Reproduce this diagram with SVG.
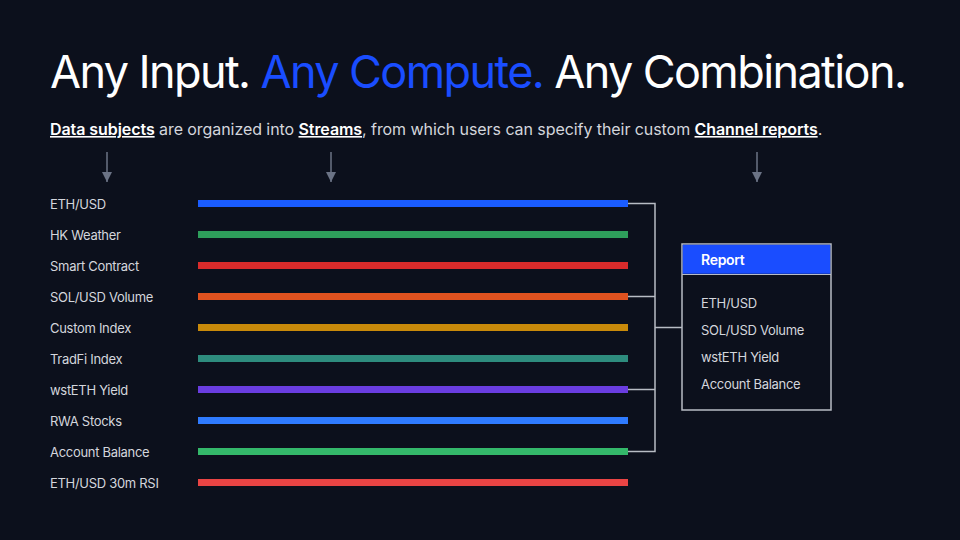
<svg xmlns="http://www.w3.org/2000/svg" width="960" height="540" viewBox="0 0 960 540">
<style>
.lbl{font-family:Inter,"Liberation Sans",sans-serif;font-size:13px;fill:#d4d6dc;letter-spacing:-0.3px}
.sub{font-family:Inter,"Liberation Sans",sans-serif;font-size:16px;fill:#d4d6dc;letter-spacing:-0.07px}
.b{font-weight:600;fill:#ffffff;text-decoration:underline}
.title{font-family:Inter,"Liberation Sans",sans-serif;font-size:45px;fill:#ffffff;letter-spacing:-1.6px}
.conn{stroke:#b8bcc4;stroke-width:1.5;fill:none}
.arr{stroke:#6b7385;stroke-width:1.5}
</style>
<defs>
<marker id="ah" viewBox="0 0 10 10" refX="10" refY="5" markerWidth="10" markerHeight="10" markerUnits="userSpaceOnUse" orient="auto">
<path d="M0,0 L10,5 L0,10 z" fill="#6b7385"/>
</marker>
</defs>
<rect width="960" height="540" fill="#0c101c"/>
<text class="title" x="50" y="88">Any Input. <tspan fill="#1a4dff">Any Compute.</tspan> Any Combination.</text>
<text class="sub" x="50" y="135"><tspan class="b">Data subjects</tspan> are organized into <tspan class="b">Streams</tspan>, from which users can specify their custom <tspan class="b">Channel reports</tspan>.</text>
<g id="arrows">
<line class="arr" x1="107" y1="152" x2="107" y2="182" marker-end="url(#ah)"/>
<line class="arr" x1="331" y1="152" x2="331" y2="182" marker-end="url(#ah)"/>
<line class="arr" x1="757" y1="152" x2="757" y2="182" marker-end="url(#ah)"/>
</g>
<g id="streams">
<g id="s1"><text class="lbl" x="50" y="209">ETH/USD</text><rect x="198" y="200" width="430" height="7" fill="#1a5cff"/></g>
<g id="s2"><text class="lbl" x="50" y="240">HK Weather</text><rect x="198" y="231" width="430" height="7" fill="#2e9e5b"/></g>
<g id="s3"><text class="lbl" x="50" y="271">Smart Contract</text><rect x="198" y="262" width="430" height="7" fill="#d92b2b"/></g>
<g id="s4"><text class="lbl" x="50" y="302">SOL/USD Volume</text><rect x="198" y="293" width="430" height="7" fill="#e0521f"/></g>
<g id="s5"><text class="lbl" x="50" y="333">Custom Index</text><rect x="198" y="324" width="430" height="7" fill="#c98a0a"/></g>
<g id="s6"><text class="lbl" x="50" y="364">TradFi Index</text><rect x="198" y="355" width="430" height="7" fill="#2e8c7e"/></g>
<g id="s7"><text class="lbl" x="50" y="395">wstETH Yield</text><rect x="198" y="386" width="430" height="7" fill="#6a3de0"/></g>
<g id="s8"><text class="lbl" x="50" y="426">RWA Stocks</text><rect x="198" y="417" width="430" height="7" fill="#2f7bff"/></g>
<g id="s9"><text class="lbl" x="50" y="457">Account Balance</text><rect x="198" y="448" width="430" height="7" fill="#34b86a"/></g>
<g id="s10"><text class="lbl" x="50" y="488">ETH/USD 30m RSI</text><rect x="198" y="479" width="430" height="7" fill="#ea4444"/></g>
</g>
<g id="connectors">
<path class="conn" d="M628,203.5 H655 V451.5 H628 M628,296.5 H655 M628,389.5 H655 M655,327.5 H682"/>
</g>
<g id="report">
<rect x="682" y="244" width="149" height="166" fill="#0c101c" stroke="#b8bcc4" stroke-width="1.5"/>
<rect x="682.75" y="244.75" width="147.5" height="29" fill="#1a4dff"/>
<line x1="682" y1="274.5" x2="831" y2="274.5" stroke="#b8bcc4" stroke-width="1"/>
<text x="701" y="265" style="font-family:Inter,'Liberation Sans',sans-serif;font-size:14px;font-weight:600;fill:#ffffff;letter-spacing:-0.3px">Report</text>
<text class="lbl" x="701" y="308">ETH/USD</text>
<text class="lbl" x="701" y="335">SOL/USD Volume</text>
<text class="lbl" x="701" y="362">wstETH Yield</text>
<text class="lbl" x="701" y="389">Account Balance</text>
</g>
</svg>
